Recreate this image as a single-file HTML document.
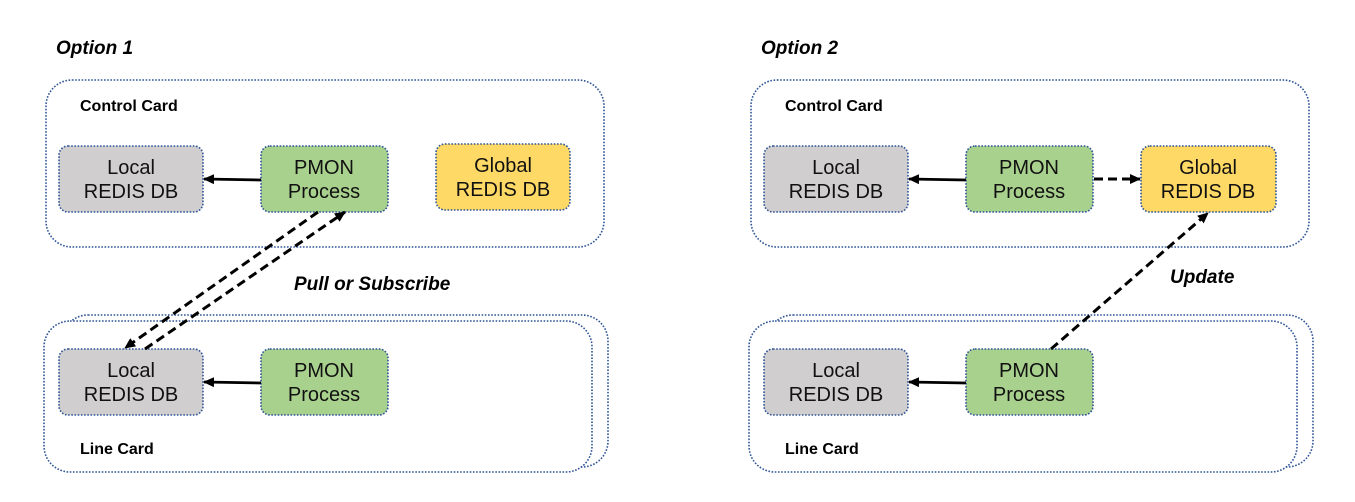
<!DOCTYPE html>
<html><head><meta charset="utf-8"><style>
html,body{margin:0;padding:0;background:#fff;width:1355px;height:502px;overflow:hidden}
svg{display:block}
text{font-family:"Liberation Sans",Arial,sans-serif}
.b{stroke:#2f5597;stroke-width:1.6;stroke-dasharray:1.6 1.6}
.lbl{font-size:20px;fill:#111;text-anchor:middle}
.hd{font-size:16px;font-weight:bold;fill:#000}
.op{font-size:19px;font-weight:bold;font-style:italic;fill:#000}
</style></head><body>
<svg width="1355" height="502" viewBox="0 0 1355 502">
<defs>
<marker id="ah" markerWidth="11" markerHeight="10" refX="10" refY="5" orient="auto" markerUnits="userSpaceOnUse"><path d="M0,0 L11,5 L0,10 z" fill="#000"/></marker>
</defs>
<g id="o1">
<text class="op" x="56" y="54">Option 1</text>
<rect class="b" x="46" y="80" width="558" height="167" rx="26" fill="none"/>
<text class="hd" x="80" y="111">Control Card</text>
<rect class="b" x="59" y="146" width="144" height="66" rx="9" fill="#d0cece"/>
<text class="lbl" x="131" y="174">Local</text><text class="lbl" x="131" y="198">REDIS DB</text>
<rect class="b" x="261" y="146" width="127" height="66" rx="9" fill="#a9d18e"/>
<text class="lbl" x="324" y="174">PMON</text><text class="lbl" x="324" y="198">Process</text>
<rect class="b" x="436" y="144" width="134" height="66" rx="9" fill="#ffd966"/>
<text class="lbl" x="503" y="172">Global</text><text class="lbl" x="503" y="196">REDIS DB</text>
<line x1="261" y1="180" x2="204" y2="179" stroke="#000" stroke-width="2.8" marker-end="url(#ah)"/>
<rect class="b" x="62" y="315" width="546" height="152" rx="26" fill="#fff"/>
<rect class="b" x="44" y="321" width="548" height="151" rx="26" fill="#fff"/>
<text class="hd" x="80" y="454">Line Card</text>
<rect class="b" x="59" y="349" width="144" height="66" rx="9" fill="#d0cece"/>
<text class="lbl" x="131" y="377">Local</text><text class="lbl" x="131" y="401">REDIS DB</text>
<rect class="b" x="261" y="349" width="127" height="66" rx="9" fill="#a9d18e"/>
<text class="lbl" x="324" y="377">PMON</text><text class="lbl" x="324" y="401">Process</text>
<line x1="261" y1="383" x2="204" y2="382" stroke="#000" stroke-width="2.8" marker-end="url(#ah)"/>
<line x1="318" y1="212" x2="125" y2="348" stroke="#000" stroke-width="3" stroke-dasharray="9 5" marker-end="url(#ah)"/>
<line x1="145" y1="349" x2="345" y2="212" stroke="#000" stroke-width="3" stroke-dasharray="9 5" marker-end="url(#ah)"/>
<text class="op" x="294" y="290">Pull or Subscribe</text>
</g>
<g>
<text class="op" x="761" y="54">Option 2</text>
<rect class="b" x="751" y="80" width="558" height="167" rx="26" fill="none"/>
<text class="hd" x="785" y="111">Control Card</text>
<rect class="b" x="764" y="146" width="144" height="66" rx="9" fill="#d0cece"/>
<text class="lbl" x="836" y="174">Local</text><text class="lbl" x="836" y="198">REDIS DB</text>
<rect class="b" x="966" y="146" width="127" height="66" rx="9" fill="#a9d18e"/>
<text class="lbl" x="1029" y="174">PMON</text><text class="lbl" x="1029" y="198">Process</text>
<rect class="b" x="1141" y="146" width="135" height="66" rx="9" fill="#ffd966"/>
<text class="lbl" x="1208" y="174">Global</text><text class="lbl" x="1208" y="198">REDIS DB</text>
<line x1="966" y1="180" x2="909" y2="179" stroke="#000" stroke-width="2.8" marker-end="url(#ah)"/>
<line x1="1094" y1="179" x2="1140" y2="179" stroke="#000" stroke-width="3" stroke-dasharray="9 5" marker-end="url(#ah)"/>
<rect class="b" x="767" y="315" width="546" height="152" rx="26" fill="#fff"/>
<rect class="b" x="749" y="321" width="548" height="151" rx="26" fill="#fff"/>
<text class="hd" x="785" y="454">Line Card</text>
<rect class="b" x="764" y="349" width="144" height="66" rx="9" fill="#d0cece"/>
<text class="lbl" x="836" y="377">Local</text><text class="lbl" x="836" y="401">REDIS DB</text>
<rect class="b" x="966" y="349" width="127" height="66" rx="9" fill="#a9d18e"/>
<text class="lbl" x="1029" y="377">PMON</text><text class="lbl" x="1029" y="401">Process</text>
<line x1="966" y1="383" x2="909" y2="382" stroke="#000" stroke-width="2.8" marker-end="url(#ah)"/>
<line x1="1051" y1="349" x2="1208" y2="213" stroke="#000" stroke-width="3" stroke-dasharray="9 5" marker-end="url(#ah)"/>
<text class="op" x="1170" y="283">Update</text>
</g>
</svg>
</body></html>
